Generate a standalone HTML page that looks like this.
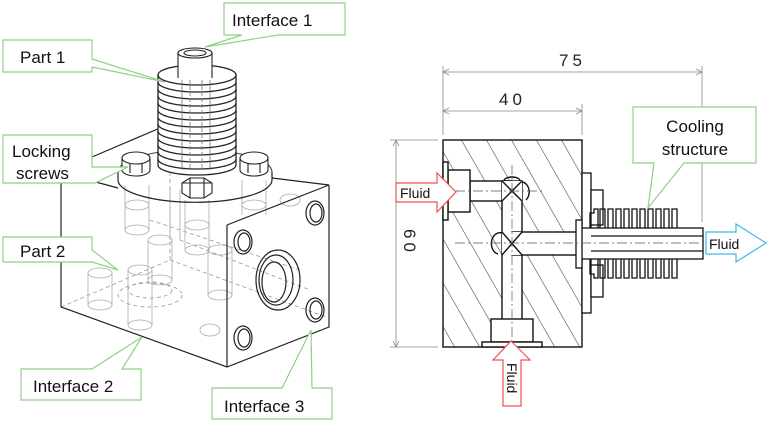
<!DOCTYPE html>
<html><head><meta charset="utf-8"><style>
html,body{margin:0;padding:0;background:#fff;}
svg{display:block;font-family:"Liberation Sans",sans-serif;}
</style></head><body>
<svg width="768" height="429" viewBox="0 0 768 429" xmlns="http://www.w3.org/2000/svg">
<defs>
<clipPath id="blk"><rect x="443" y="140" width="139" height="207"/></clipPath>
</defs>
<rect width="768" height="429" fill="#fff"/>

<!-- ===== LEFT ISOMETRIC ===== -->
<g fill="none" stroke="#999" stroke-width="0.8" stroke-dasharray="4,3">
  <line x1="61" y1="307" x2="170" y2="260"/>
  <line x1="170" y1="260" x2="329" y2="318"/>
  <line x1="170" y1="260" x2="170" y2="140"/>
  <ellipse cx="150" cy="295" rx="32" ry="12"/>
  <ellipse cx="150" cy="290" rx="22" ry="8"/>
  <line x1="180" y1="240" x2="310" y2="290"/>
  <line x1="150" y1="220" x2="300" y2="270"/>
</g>
<g fill="none" stroke="#aaa" stroke-width="0.8">
  <ellipse cx="100" cy="273" rx="12" ry="5"/><ellipse cx="100" cy="305" rx="12" ry="5"/>
  <line x1="88" y1="273" x2="88" y2="305"/><line x1="112" y1="273" x2="112" y2="305"/>
  <ellipse cx="140" cy="270" rx="12" ry="5"/><ellipse cx="140" cy="325" rx="12" ry="5"/>
  <line x1="128" y1="270" x2="128" y2="325"/><line x1="152" y1="270" x2="152" y2="325"/>
  <ellipse cx="160" cy="240" rx="12" ry="5"/><ellipse cx="160" cy="280" rx="12" ry="5"/>
  <line x1="148" y1="240" x2="148" y2="280"/><line x1="172" y1="240" x2="172" y2="280"/>
  <ellipse cx="220" cy="250" rx="12" ry="5"/><ellipse cx="220" cy="295" rx="12" ry="5"/>
  <line x1="208" y1="250" x2="208" y2="295"/><line x1="232" y1="250" x2="232" y2="295"/>
  <ellipse cx="137" cy="205" rx="12" ry="5"/><ellipse cx="137" cy="230" rx="12" ry="5"/>
  <line x1="125" y1="185" x2="125" y2="230"/><line x1="149" y1="185" x2="149" y2="230"/>
  <ellipse cx="197" cy="225" rx="12" ry="5"/><ellipse cx="197" cy="250" rx="12" ry="5"/>
  <line x1="185" y1="200" x2="185" y2="250"/><line x1="209" y1="200" x2="209" y2="250"/>
  <ellipse cx="254" cy="205" rx="12" ry="5"/>
  <line x1="242" y1="180" x2="242" y2="215"/><line x1="266" y1="180" x2="266" y2="215"/>
  <line x1="170" y1="190" x2="170" y2="240"/><line x1="180" y1="190" x2="180" y2="240"/>
  <ellipse cx="290" cy="200" rx="10" ry="6"/><ellipse cx="210" cy="330" rx="10" ry="6"/>
</g>
<!-- block outline -->
<g fill="none" stroke="#222" stroke-width="1.2">
  <polyline points="61,183 61,307 227,367 329,327 329,185"/>
  <line x1="227" y1="225" x2="227" y2="367"/>
  <line x1="227" y1="225" x2="329" y2="185"/>
  <line x1="92" y1="157" x2="160" y2="128"/>
  <line x1="272" y1="178" x2="329" y2="185"/>
  <line x1="160" y1="128" x2="175" y2="133"/>
  <line x1="92" y1="181" x2="118" y2="188"/>
</g>
<!-- holes on front face -->
<g fill="none" stroke="#222" stroke-width="1.2">
  <ellipse cx="243" cy="242" rx="9" ry="12"/><ellipse cx="244" cy="242" rx="6" ry="9"/>
  <ellipse cx="243" cy="338" rx="9" ry="12"/><ellipse cx="244" cy="338" rx="6" ry="9"/>
  <ellipse cx="315" cy="213" rx="9" ry="12"/><ellipse cx="316" cy="213" rx="6" ry="9"/>
  <ellipse cx="315" cy="310" rx="9" ry="12"/><ellipse cx="316" cy="310" rx="6" ry="9"/>
  <ellipse cx="278" cy="280" rx="22" ry="30"/><ellipse cx="276" cy="280" rx="17" ry="25"/>
  <ellipse cx="274" cy="282" rx="12" ry="20"/>
</g>
<!-- flange -->
<g fill="none" stroke="#222" stroke-width="1.2">
  <path d="M118,180 A76,22 0 0 0 272,180"/>
  <path d="M118,172 L118,180 M272,172 L272,180"/>
  <path d="M118,172 A76,22 0 0 1 272,172" stroke="#555"/>
</g>
<!-- fins -->
<g fill="#fff" stroke="#222" stroke-width="1.3">
  <rect x="158" y="75" width="78" height="95" fill="#fff" stroke="none"/>
  <line x1="158" y1="75" x2="158" y2="165"/><line x1="236" y1="75" x2="236" y2="165"/>
  <path d="M158,165 A39,10 0 0 0 236,165" fill="none"/>
  <g fill="none">
  <ellipse cx="197" cy="75" rx="39" ry="10"/>
  <path d="M158,82 A39,10 0 0 0 236,82"/><path d="M158,89 A39,10 0 0 0 236,89"/>
  <path d="M158,96 A39,10 0 0 0 236,96"/><path d="M158,103 A39,10 0 0 0 236,103"/>
  <path d="M158,110 A39,10 0 0 0 236,110"/><path d="M158,117 A39,10 0 0 0 236,117"/>
  <path d="M158,124 A39,10 0 0 0 236,124"/><path d="M158,131 A39,10 0 0 0 236,131"/>
  <path d="M158,138 A39,10 0 0 0 236,138"/><path d="M158,145 A39,10 0 0 0 236,145"/>
  <path d="M158,152 A39,10 0 0 0 236,152"/><path d="M158,159 A39,10 0 0 0 236,159"/>
  </g>
</g>
<g fill="none" stroke="#777" stroke-width="0.8">
  <line x1="182" y1="80" x2="182" y2="170"/><line x1="210" y1="80" x2="210" y2="170"/>
  <line x1="190" y1="80" x2="190" y2="170" stroke-dasharray="4,2"/><line x1="202" y1="80" x2="202" y2="170" stroke-dasharray="4,2"/>
</g>
<!-- tube -->
<g stroke="#222" stroke-width="1.1" fill="#fff">
  <rect x="178" y="53" width="34" height="25" stroke="none"/>
  <line x1="178" y1="53" x2="178" y2="78"/><line x1="212" y1="53" x2="212" y2="78"/>
  <ellipse cx="195" cy="53" rx="17" ry="5"/><ellipse cx="195" cy="53" rx="11" ry="3" fill="none"/>
</g>
<!-- screws -->
<g fill="#fff" stroke="#222" stroke-width="1.1">
  <path d="M122,158 L122,170 A14,6 0 0 0 150,170 L150,158"/><ellipse cx="136" cy="158" rx="14" ry="6"/>
  <path d="M130,164 L130,173 M142,164 L142,173" fill="none"/>
  <path d="M240,158 L240,170 A14,6 0 0 0 268,170 L268,158"/><ellipse cx="254" cy="158" rx="14" ry="6"/>
  <path d="M248,164 L248,173 M260,164 L260,173" fill="none"/>
  <path d="M182,183 L182,193 L190,198 L204,198 L212,193 L212,183 L204,178 L190,178 Z"/>
  <path d="M190,178 L190,198 M204,178 L204,198 M182,183 L212,183" fill="none"/>
</g>

<!-- labels left -->
<g fill="#fff" stroke="#8fd185" stroke-width="1.2">
  <polygon points="224,3 345,3 345,35 278,35 205,47 242,35 224,35"/>
  <polygon points="3,40 92,40 92,59 165,82 92,67 92,72 3,72"/>
  <polygon points="3,135 92,135 92,167 128,167 95,183 3,183"/>
  <polygon points="3,237 92,237 92,250 118,270 92,262 3,262"/>
  <polygon points="21,369 92,369 142,337 122,369 141,369 141,400 21,400"/>
  <polygon points="212,388 282,388 311,330 312,388 332,388 332,419 212,419"/>
</g>
<g font-size="17" fill="#111">
  <text x="232" y="26">Interface 1</text>
  <text x="20" y="63">Part 1</text>
  <text x="12" y="157">Locking</text>
  <text x="16" y="179">screws</text>
  <text x="20" y="257">Part 2</text>
  <text x="33" y="392">Interface 2</text>
  <text x="224" y="412">Interface 3</text>
</g>

<!-- ===== RIGHT SECTION ===== -->
<g stroke="#888" stroke-width="0.8" fill="none">
  <line x1="443" y1="66" x2="443" y2="135"/>
  <line x1="702" y1="66" x2="702" y2="222"/>
  <line x1="582" y1="104" x2="582" y2="135"/>
  <line x1="443" y1="72" x2="702" y2="72"/>
  <line x1="443" y1="111" x2="582" y2="111"/>
  <line x1="390" y1="140" x2="438" y2="140"/>
  <line x1="390" y1="347" x2="438" y2="347"/>
  <line x1="396" y1="140" x2="396" y2="347"/>
  <path d="M449,69 L443,72 L449,75 M696,69 L702,72 L696,75 M449,108 L443,111 L449,114 M576,108 L582,111 L576,114 M393,146 L396,140 L399,146 M393,341 L396,347 L399,341"/>
</g>
<g font-size="17" fill="#222">
  <text x="559" y="66" letter-spacing="4">75</text>
  <text x="499" y="105" letter-spacing="4">40</text>
  <text x="0" y="0" letter-spacing="4" transform="translate(404,229) rotate(90)">60</text>
</g>
<g clip-path="url(#blk)" stroke="#777" stroke-width="0.8">
  <path d="M400,120 L560,400 M425,120 L585,400 M450,120 L610,400 M475,120 L635,400 M500,120 L660,400 M525,120 L685,400 M550,120 L710,400 M575,120 L735,400 M375,120 L535,400 M350,120 L510,400 M325,120 L485,400 M300,120 L460,400 M275,120 L435,400"/>
</g>
<g fill="#fff" stroke="#111" stroke-width="1.4">
  <rect x="443" y="140" width="139" height="207" fill="none"/>
  <rect x="470" y="181" width="42" height="20"/>
  <rect x="502" y="181" width="20" height="140"/>
  <rect x="512" y="232" width="70" height="23"/>
  <rect x="448" y="170" width="22" height="42"/>
  <rect x="443" y="162" width="5" height="58"/>
  <rect x="491" y="319" width="42" height="23"/>
  <rect x="482" y="342" width="60" height="5"/>
  <rect x="502" y="181" width="20" height="20" stroke="none"/>
  <rect x="502" y="232" width="20" height="23" stroke="none"/>
  <path d="M502,181 L522,201 M522,181 L502,201 M502,232 L522,255 M522,232 L502,255" fill="none"/>
  <path d="M522,182 A8,10 0 0 1 526,200" fill="none"/>
  <path d="M502,233 A8,10 0 0 0 498,254" fill="none"/>
  <path d="M504,181 A8,4 0 0 1 520,181" fill="none"/>
</g>
<g fill="#fff" stroke="#111" stroke-width="1.3">
  <rect x="582" y="173" width="9" height="140"/>
  <rect x="591" y="190" width="12" height="35"/>
  <rect x="591" y="265" width="12" height="32"/>
  <path d="M590,228 V213 h4 v-4 h4 v19 M600,228 V209 h5 v19 M608,228 V209 h5 v19 M616,228 V209 h5 v19 M624,228 V209 h5 v19 M632,228 V209 h5 v19 M640,228 V209 h5 v19 M648,228 V209 h5 v19 M656,228 V209 h5 v19 M664,228 V209 h5 v19 M672,228 V209 h5 v19" fill="none"/>
  <path d="M590,259 V274 h4 v4 h4 v-19 M600,259 V278 h5 v-19 M608,259 V278 h5 v-19 M616,259 V278 h5 v-19 M624,259 V278 h5 v-19 M632,259 V278 h5 v-19 M640,259 V278 h5 v-19 M648,259 V278 h5 v-19 M656,259 V278 h5 v-19 M664,259 V278 h5 v-19 M672,259 V278 h5 v-19" fill="none"/>
  <rect x="580" y="228" width="123" height="31"/>
  <rect x="576" y="220" width="6" height="48"/>
  <line x1="591" y1="236" x2="703" y2="236"/><line x1="591" y1="251" x2="703" y2="251"/>
</g>
<g stroke="#555" stroke-width="0.7" stroke-dasharray="10,3,2,3">
  <line x1="455" y1="191" x2="545" y2="191"/>
  <line x1="455" y1="243" x2="700" y2="243"/>
  <line x1="512" y1="165" x2="512" y2="345"/>
</g>

<polygon points="633,107 756,107 756,163 684,163 648,208 654,163 633,163" fill="#fff" stroke="#8fd185" stroke-width="1.2"/>
<text x="695" y="132" font-size="17" text-anchor="middle" fill="#111">Cooling</text>
<text x="695" y="155" font-size="17" text-anchor="middle" fill="#111">structure</text>

<polygon points="396,183 437,183 437,173 456,192 437,212 437,202 396,202" fill="#fff" stroke="#f05050" stroke-width="1.2"/>
<text x="400" y="198" font-size="14" fill="#111">Fluid</text>
<polygon points="706,232 736,232 736,224 766,243 736,262 736,254 706,254" fill="#fff" stroke="#40b8f0" stroke-width="1.2"/>
<text x="709" y="249" font-size="14" fill="#111">Fluid</text>
<polygon points="511,341 530,360 521,360 521,406 503,406 503,360 493,360" fill="#fff" stroke="#f05050" stroke-width="1.2"/>
<text x="0" y="0" font-size="14" fill="#111" transform="translate(507,363) rotate(90)">Fluid</text>
</svg>
</body></html>
